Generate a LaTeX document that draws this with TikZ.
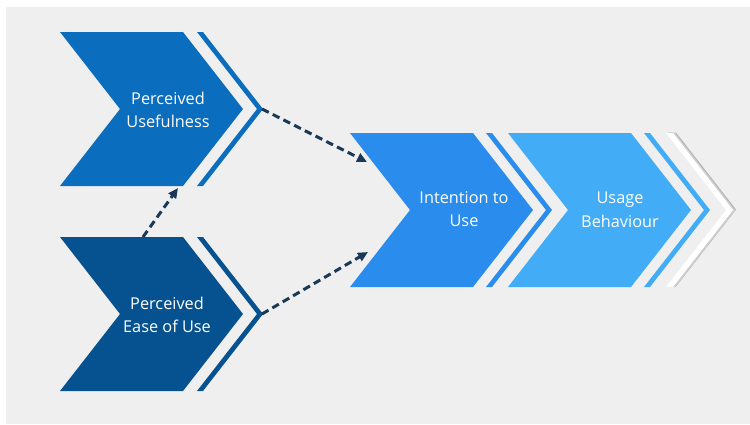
\documentclass[tikz,border=0pt]{standalone}
\usepackage{fontspec}
\setmainfont{Open Sans}
\usetikzlibrary{arrows.meta}

\definecolor{panel}{HTML}{EFEFEF}
\definecolor{cPU}{HTML}{0A6DBE}
\definecolor{cPE}{HTML}{065290}
\definecolor{cIT}{HTML}{2A8DED}
\definecolor{cUB}{HTML}{42ACF7}
\definecolor{arrowc}{HTML}{1A3857}

% chevron body: #1 left x, #2 centre y, #3 colour
\newcommand\chevbody[3]{%
  \fill[#3] (#1,#2-77) -- ++(123,0) -- ++(60,77) -- ++(-60,77)
    -- ++(-123,0) -- ++(60,-77) -- cycle;}
% thin chevron band: #1 left x at top, #2 centre y, #3 colour, #4 band width
\newcommand\chevband[4]{%
  \fill[#3] (#1,#2-77) -- ++(#4,0) -- ++(60,77) -- ++(-60,77)
    -- ++(-#4,0) -- ++(60,-77) -- cycle;}

\tikzset{
  label/.style={text=white, font=\fontsize{16.3}{23.5}\selectfont, align=center, inner sep=0pt},
  dasharrow/.style={draw=arrowc, line width=3pt, dash pattern=on 7.5pt off 4.5pt,
    -{Triangle[length=10pt,width=9pt]}},
}

\begin{document}
\begin{tikzpicture}[x=1pt, y=-1pt]
  \useasboundingbox (0,0) rectangle (750,424);
  \fill[white] (0,0) rectangle (750,424);
  \fill[panel] (6,7) rectangle (750,424);

  % Perceived Usefulness
  \chevbody{60}{109}{cPU}
  \chevband{197}{109}{cPU}{6}
  % Perceived Ease of Use
  \chevbody{60}{314}{cPE}
  \chevband{197}{314}{cPE}{6}
  % Intention to Use
  \chevbody{350}{210}{cIT}
  \chevband{486}{210}{cIT}{6}
  % Usage Behaviour
  \chevbody{508}{210}{cUB}
  \chevband{644}{210}{cUB}{6}
  % light outline with soft shadow
  \begin{scope}[xshift=2pt, yshift=0.5pt]
    \chevband{666}{210}{black!30}{8}
  \end{scope}
  \begin{scope}[xshift=1pt]
    \chevband{666}{210}{black!18}{8}
  \end{scope}
  \chevband{666}{210}{white}{7}

  % labels
  \node[label] (pu)   at (168,110) {Perceived\\Usefulness};
  \node[label] (peou) at (167,315) {Perceived\\Ease of Use};
  \node[label] (itu)  at (464,209) {Intention to\\Use};
  \node[label] (ub)   at (620,210) {Usage\\Behaviour};

  % connector ends
  \coordinate (pu-tip)   at (262,109);
  \coordinate (pu-foot)  at (178,188);
  \coordinate (peou-tip) at (262,314);
  \coordinate (peou-top) at (143,237);
  \coordinate (itu-in1)  at (367,162);
  \coordinate (itu-in2)  at (368,252);

  \draw[dasharrow] (peou-top) -- (pu-foot);
  \draw[dasharrow] (pu-tip) -- (itu-in1);
  \draw[dasharrow] (peou-tip) -- (itu-in2);
\end{tikzpicture}
\end{document}
